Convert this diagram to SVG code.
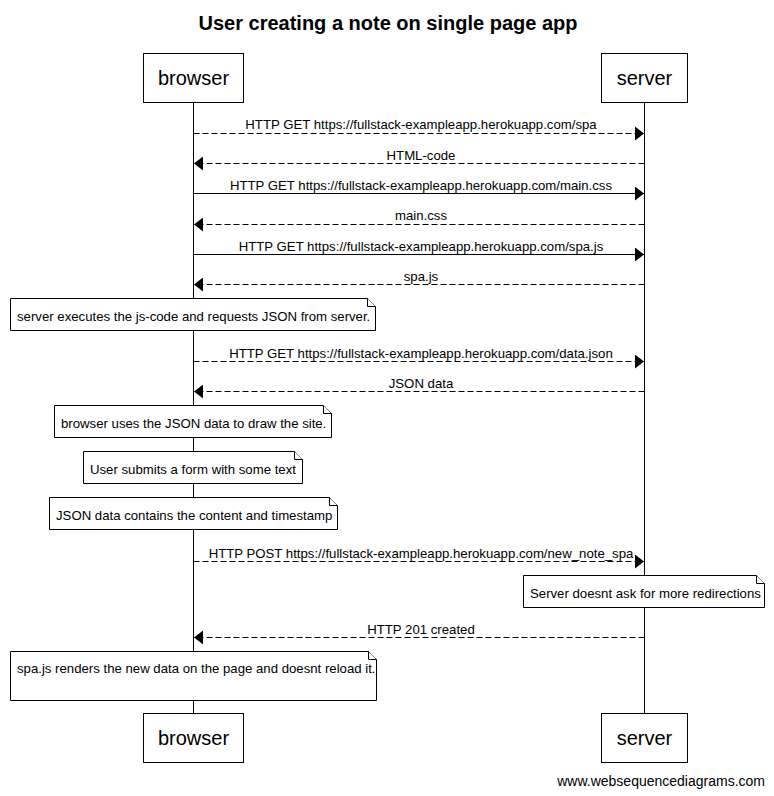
<svg xmlns="http://www.w3.org/2000/svg" width="774" height="796" viewBox="0 0 774 796">
<style>
text{font-family:"Liberation Sans",Arial,sans-serif;fill:#000}
.t{font-size:20px;font-weight:bold;text-anchor:middle}
.a{font-size:20px;text-anchor:middle}
.m{font-size:13.2px;text-anchor:middle}
.n{font-size:13.2px}
.box{fill:#fff;stroke:#000;stroke-width:1}
.life{stroke:#000;stroke-width:1}
.msg{stroke:#000;stroke-width:1;fill:none}
.dash{stroke-dasharray:6,3}
.note{fill:#fff;stroke:#000;stroke-width:1}
.fold{fill:#fff;stroke:#000;stroke-width:1}
</style>
<defs>
<marker id="ah" viewBox="0 0 9 14" refX="9" refY="7" markerWidth="9" markerHeight="14" markerUnits="userSpaceOnUse" orient="auto">
<path d="M0,0 L9,7 L0,14 Z" fill="#000"/>
</marker>
</defs>
<rect width="774" height="796" fill="#fff"/>
<text class="t" x="388" y="30">User creating a note on single page app</text>
<g id="lifelines">
<line class="life" x1="193.5" y1="102" x2="193.5" y2="713"/>
<line class="life" x1="644.5" y1="102" x2="644.5" y2="713"/>
</g>
<g id="browser"><rect class="box" x="143.5" y="53.5" width="100" height="49"/><text class="a" x="193.5" y="85">browser</text></g>
<g id="server"><rect class="box" x="601.5" y="53.5" width="86" height="49"/><text class="a" x="644.5" y="85">server</text></g>
<g id="browser-bottom"><rect class="box" x="143.5" y="713.5" width="100" height="49"/><text class="a" x="193.5" y="745">browser</text></g>
<g id="server-bottom"><rect class="box" x="601.5" y="713.5" width="86" height="49"/><text class="a" x="644.5" y="745">server</text></g>
<g id="connectors">
<line class="msg dash" x1="193.5" y1="133.5" x2="644" y2="133.5" marker-end="url(#ah)"/>
<text class="m" x="421" y="129">HTTP GET https://fullstack-exampleapp.herokuapp.com/spa</text>
<line class="msg dash" x1="644.5" y1="163.5" x2="194" y2="163.5" marker-end="url(#ah)"/>
<text class="m" x="421" y="160">HTML-code</text>
<line class="msg" x1="193.5" y1="193.5" x2="644" y2="193.5" marker-end="url(#ah)"/>
<text class="m" x="421" y="190">HTTP GET https://fullstack-exampleapp.herokuapp.com/main.css</text>
<line class="msg dash" x1="644.5" y1="224.5" x2="194" y2="224.5" marker-end="url(#ah)"/>
<text class="m" x="421" y="220">main.css</text>
<line class="msg" x1="193.5" y1="254.5" x2="644" y2="254.5" marker-end="url(#ah)"/>
<text class="m" x="421" y="251">HTTP GET https://fullstack-exampleapp.herokuapp.com/spa.js</text>
<line class="msg dash" x1="644.5" y1="284.5" x2="194" y2="284.5" marker-end="url(#ah)"/>
<text class="m" x="421" y="281">spa.js</text>
<line class="msg dash" x1="193.5" y1="361.5" x2="644" y2="361.5" marker-end="url(#ah)"/>
<text class="m" x="421" y="358">HTTP GET https://fullstack-exampleapp.herokuapp.com/data.json</text>
<line class="msg dash" x1="644.5" y1="391.5" x2="194" y2="391.5" marker-end="url(#ah)"/>
<text class="m" x="421" y="388">JSON data</text>
<line class="msg dash" x1="193.5" y1="561.5" x2="644" y2="561.5" marker-end="url(#ah)"/>
<text class="m" x="421" y="558">HTTP POST https://fullstack-exampleapp.herokuapp.com/new_note_spa</text>
<line class="msg dash" x1="644.5" y1="637.5" x2="194" y2="637.5" marker-end="url(#ah)"/>
<text class="m" x="421" y="634">HTTP 201 created</text>
</g>
<g id="note1"><path class="note" d="M10.5,298.5 H367.5 L375.5,306.5 V330.5 H10.5 Z"/><path class="fold" d="M367.5,298.5 V306.5 H375.5"/><text class="n" x="17" y="321">server executes the js-code and requests JSON from server.</text></g>
<g id="note2"><path class="note" d="M54.5,405.5 H323.5 L331.5,413.5 V437.5 H54.5 Z"/><path class="fold" d="M323.5,405.5 V413.5 H331.5"/><text class="n" x="61" y="428">browser uses the JSON data to draw the site.</text></g>
<g id="note3"><path class="note" d="M83.5,451.5 H294.5 L302.5,459.5 V483.5 H83.5 Z"/><path class="fold" d="M294.5,451.5 V459.5 H302.5"/><text class="n" x="90" y="474">User submits a form with some text</text></g>
<g id="note4"><path class="note" d="M49.5,497.5 H329.5 L337.5,505.5 V529.5 H49.5 Z"/><path class="fold" d="M329.5,497.5 V505.5 H337.5"/><text class="n" x="56" y="520">JSON data contains the content and timestamp</text></g>
<g id="note5"><path class="note" d="M523.5,575.5 H756.5 L764.5,583.5 V607.5 H523.5 Z"/><path class="fold" d="M756.5,575.5 V583.5 H764.5"/><text class="n" x="530" y="598">Server doesnt ask for more redirections</text></g>
<g id="note6"><path class="note" d="M10.5,651.5 H368.5 L376.5,659.5 V700.5 H10.5 Z"/><path class="fold" d="M368.5,651.5 V659.5 H376.5"/><text class="n" x="17" y="673">spa.js renders the new data on the page and doesnt reload it.</text></g>
<text x="765" y="786" style="font-size:14px;text-anchor:end">www.websequencediagrams.com</text>
</svg>
